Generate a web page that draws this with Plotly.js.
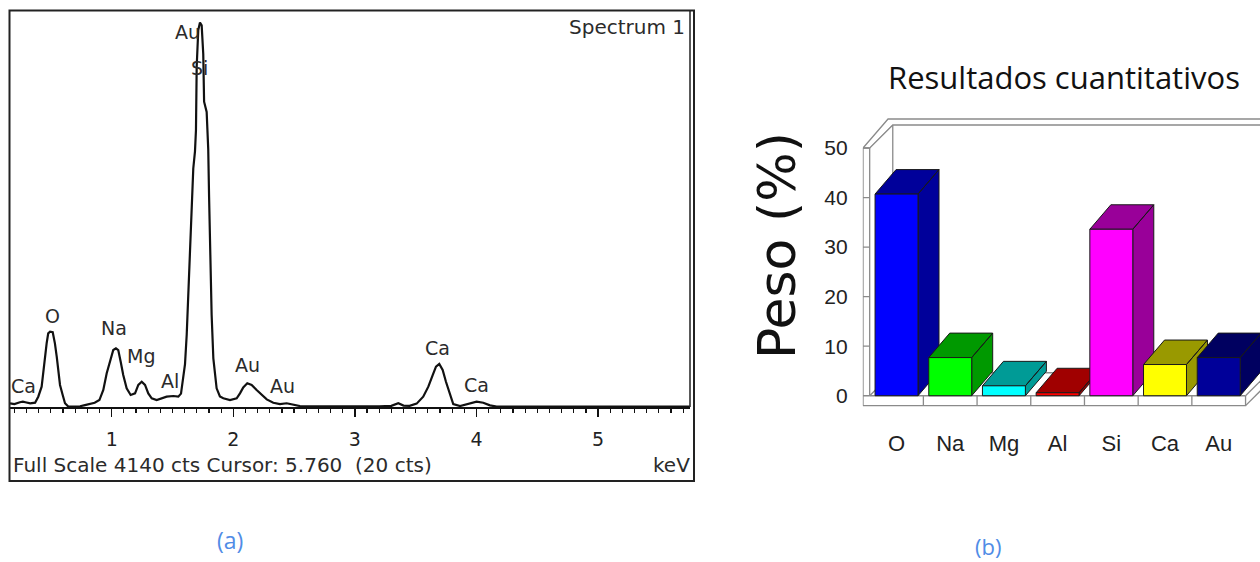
<!DOCTYPE html>
<html><head><meta charset="utf-8">
<script src="https://cdn.plot.ly/plotly-3.0.1.min.js"></script>
<style>html,body{margin:0;padding:0;background:#fff;}#chart{width:1260px;height:562px;}</style>
</head><body><div id="chart"></div>
<script>
// ---- (a) EDS spectrum ----
const energyKeV = [0.164,0.20,0.245,0.27,0.29,0.33,0.37,0.396,0.424,0.438,0.451,0.465,0.478,0.493,0.515,0.533,0.548,0.561,0.575,0.597,0.616,0.643,0.70,0.74,0.78,0.821,0.86,0.899,0.931,0.959,0.987,1.013,1.035,1.054,1.074,1.095,1.123,1.156,1.192,1.219,1.247,1.274,1.301,1.329,1.370,1.411,1.452,1.507,1.548,1.570,1.590,1.603,1.617,1.630,1.644,1.658,1.671,1.685,1.693,1.699,1.712,1.726,1.740,1.753,1.760,1.781,1.794,1.801,1.808,1.815,1.822,1.836,1.850,1.863,1.890,1.918,1.973,2.028,2.055,2.082,2.115,2.151,2.192,2.233,2.275,2.329,2.384,2.439,2.493,2.548,2.65,2.8,3.0,3.2,3.30,3.357,3.40,3.45,3.508,3.562,3.604,3.640,3.667,3.694,3.722,3.749,3.778,3.809,3.865,3.947,4.001,4.056,4.111,4.166,4.5,5.0,5.5,5.755];
const counts = [39,30,50,56,50,39,45,108,213,388,510,667,772,789,783,667,527,388,231,126,39,5,3,8,20,31,45,73,178,353,493,597,615,597,475,335,196,126,143,231,265,231,143,91,73,91,108,115,108,140,335,450,760,1200,1700,2000,2500,2680,2900,3566,3951,4030,4000,3700,3200,3092,2700,2200,1700,1450,964,510,330,196,110,91,73,91,143,206,248,231,178,126,80,45,31,39,24,10,8,5,6,8,12,39,15,12,35,108,213,335,423,451,388,265,143,31,10,39,56,45,17,5,4,3,4,3];
const keVTicks = [1,2,3,4,5];
const peakLabels = ['Au','Si','O','Na','Mg','Al','Ca','Au','Au','Ca','Ca'];

// ---- (b) quantitative results ----
const elements = ['O','Na','Mg','Al','Si','Ca','Au'];
const pesoPct = [40.7,7.7,2.0,0.6,33.6,6.3,7.7];
const pesoTicks = [0,10,20,30,40,50];

// styles
const frontColors = ['#0000FF','#00FF00','#00FFFF','#FF0000','#FF00FF','#FFFF00','#000099'];
const darkColors  = ['#00009A','#009900','#009B96','#A00000','#990099','#999900','#000060'];

const W=1260,H=562;
const px = x => x/W, py = y => 1 - y/H;

const traces = [];
traces.push({type:'scatter',mode:'lines',x:energyKeV,y:counts,xaxis:'x',yaxis:'y',
  line:{color:'#111',width:2.2},hoverinfo:'skip',showlegend:false});

// 3D frame (walls/floor) for bar chart
const IO=-0.624, II=-0.5, WX1=0.466, WY1=5.85, WX2=0.43, WY2=4.64, FL=-2.0, XR=7.2;
const fx=[], fy=[];
function seg(xs,ys){ fx.push(...xs,null); fy.push(...ys,null); }
seg([IO,IO],[FL,50]);
seg([II,II],[0,50]);
seg([IO,II],[50,50]);
seg([IO,IO+WX1,XR],[50,50+WY1,50+WY1]);
seg([II,II+WX2,XR],[50,50+WY2,50+WY2]);
seg([II+WX2,II+WX2],[50+WY2,WY2]);
seg([II,II+WX2,XR],[0,WY2,WY2]);
pesoTicks.forEach(t=>seg([IO,II],[t,t]));
seg([IO,6.5,6.5],[FL,FL,0]);
seg([II,6.5],[0,0]);
for(let k=0;k<6;k++) seg([k+0.5,k+0.5],[FL,0]);
seg([6.5,6.5+WX2],[FL,FL+WY2]);
seg([6.5,6.5+WX2],[0,WY2]);
traces.push({type:'scatter',mode:'lines',x:fx,y:fy,xaxis:'x2',yaxis:'y2',
  line:{color:'#8a8a8a',width:1.3},hoverinfo:'skip',showlegend:false,connectgaps:false});

const DX=0.391, DY=4.94, HW=0.4;
elements.forEach((el,i)=>{
  const v=pesoPct[i], x0=i-HW, x1=i+HW;
  traces.push({type:'scatter',mode:'lines',xaxis:'x2',yaxis:'y2',fill:'toself',fillcolor:darkColors[i],
    line:{color:'#1a1a1a',width:1},hoverinfo:'skip',showlegend:false,
    x:[x1,x1+DX,x1+DX,x1,x1,null,x0,x0+DX,x1+DX,x1,x0],
    y:[0,DY,v+DY,v,0,null,v,v+DY,v+DY,v,v]});
  traces.push({type:'scatter',mode:'lines',xaxis:'x2',yaxis:'y2',fill:'toself',fillcolor:frontColors[i],
    line:{color:'#1a1a1a',width:1},hoverinfo:'skip',showlegend:false,
    x:[x0,x1,x1,x0,x0],y:[0,0,v,v,0]});
});

const labelPos = [[187,32],[199,68],[52,316],[114,328],[141,356],[170,381],[23,386],[247,365],[282,386],[437,348],[476,385]];
const annotations = peakLabels.map((t,k)=>({text:t,xref:'paper',yref:'paper',x:px(labelPos[k][0]),y:py(labelPos[k][1]),
  showarrow:false,xanchor:'center',yanchor:'middle',font:{family:'DejaVu Sans',size:19,color:'#2b2b2b'}}));
annotations.push(
 {text:'Spectrum 1',xref:'paper',yref:'paper',x:px(687),y:py(27),xanchor:'right',yanchor:'middle',showarrow:false,font:{family:'DejaVu Sans',size:20,color:'#2b2b2b'}},
 {text:'Full Scale 4140 cts Cursor: 5.760 \u00a0(20 cts)',xref:'paper',yref:'paper',x:px(11),y:py(465),xanchor:'left',yanchor:'middle',showarrow:false,font:{family:'DejaVu Sans',size:20,color:'#2b2b2b'}},
 {text:'keV',xref:'paper',yref:'paper',x:px(692),y:py(465),xanchor:'right',yanchor:'middle',showarrow:false,font:{family:'DejaVu Sans',size:20,color:'#2b2b2b'}},
 {text:'(a)',xref:'paper',yref:'paper',x:px(230),y:py(540),xanchor:'center',yanchor:'middle',showarrow:false,font:{family:'Open Sans',size:23,color:'#508ce6'}},
 {text:'(b)',xref:'paper',yref:'paper',x:px(988),y:py(546),xanchor:'center',yanchor:'middle',showarrow:false,font:{family:'Open Sans',size:22,color:'#508ce6'}},
 {text:'Resultados cuantitativos',xref:'paper',yref:'paper',x:px(1064),y:py(77),xanchor:'center',yanchor:'middle',showarrow:false,font:{family:'Open Sans',size:31,color:'#111'}},
 {text:'Peso (%)',xref:'paper',yref:'paper',x:px(777),y:py(246),xanchor:'center',yanchor:'middle',textangle:-90,showarrow:false,font:{family:'DejaVu Sans',size:52,color:'#111'}}
);

const layout = {
  width:W,height:H,margin:{l:0,r:0,t:0,b:0},paper_bgcolor:'#fff',plot_bgcolor:'rgba(0,0,0,0)',showlegend:false,
  xaxis:{domain:[px(10),px(690)],range:[0.1637,5.756],anchor:'y',tickmode:'array',tickvals:keVTicks,ticktext:keVTicks.map(String),
    ticks:'outside',ticklen:8,tickwidth:1.5,tickcolor:'#111',
    minor:{tickmode:'linear',tick0:0,dtick:0.1,ticks:'outside',ticklen:4,tickwidth:1.2,tickcolor:'#111',showgrid:false},
    showline:true,linewidth:2,linecolor:'#111',showgrid:false,zeroline:false,fixedrange:true,
    tickfont:{family:'DejaVu Sans',size:19,color:'#222'},ticklabelstandoff:6},
  yaxis:{domain:[py(407),py(12)],range:[0,4140],anchor:'x',visible:false,fixedrange:true},
  xaxis2:{domain:[px(862.7),1],range:[-0.63,6.769],anchor:'y2',tickmode:'array',tickvals:elements.map((e,i)=>i),ticktext:elements,
    ticks:'',showgrid:false,zeroline:false,showline:false,fixedrange:true,
    tickfont:{family:'Liberation Sans, Arial',size:22,color:'#222'},ticklabelstandoff:17},
  yaxis2:{domain:[py(410.6),py(113.3)],range:[-3,57],anchor:'x2',tickmode:'array',tickvals:pesoTicks,
    ticks:'',showgrid:false,zeroline:false,showline:false,fixedrange:true,
    tickfont:{family:'Liberation Sans, Arial',size:21,color:'#222'},ticklabelstandoff:14},
  shapes:[
    {type:'rect',xref:'paper',yref:'paper',x0:px(9.5),x1:px(694),y0:py(481),y1:py(10.5),line:{color:'#222',width:2}},
    {type:'line',xref:'paper',yref:'paper',x0:px(690),x1:px(690),y0:py(407),y1:py(11),line:{color:'#222',width:1.5}}
  ],
  annotations:annotations
};
Plotly.newPlot('chart',traces,layout,{staticPlot:true,displayModeBar:false});
</script></body></html>
